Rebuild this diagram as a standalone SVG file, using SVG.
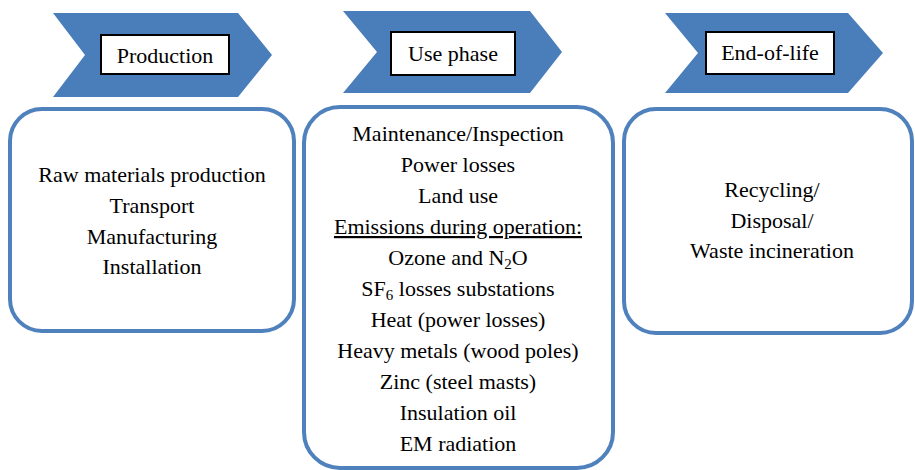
<svg xmlns="http://www.w3.org/2000/svg" width="915" height="470" viewBox="0 0 915 470">
<style>
.chev{fill:#4a7ebb;}
.lbl{fill:#fff;stroke:#000;stroke-width:2;}
.box{fill:#fff;stroke:#4f81bd;stroke-width:4;}
text{font-size:22px;fill:#000;text-anchor:middle;}
.sub{font-size:15px;}
</style>
<rect width="915" height="470" fill="#fff"/>
<g font-family="Liberation Serif, Times New Roman, serif">
<g id="production">
<polygon class="chev" points="53,13 238,13 272,55 238,97 53,97 85,55"/>
<rect class="lbl" x="101" y="35" width="128" height="39"/>
<text x="165" y="63">Production</text>
</g>
<g id="use-phase">
<polygon class="chev" points="343,11 530,11 562,52 530,93 343,93 377,52"/>
<rect class="lbl" x="391" y="32" width="124" height="43"/>
<text x="453" y="61">Use phase</text>
</g>
<g id="end-of-life">
<polygon class="chev" points="665,13 848,13 883,53 848,93 665,93 698,53"/>
<rect class="lbl" x="706" y="32" width="128" height="42"/>
<text x="770" y="60">End-of-life</text>
</g>
<g id="production-box">
<rect class="box" x="10" y="109" width="284" height="222" rx="32" ry="32"/>
<text x="152" y="182">Raw materials production</text>
<text x="152" y="213">Transport</text>
<text x="152" y="244">Manufacturing</text>
<text x="152" y="274">Installation</text>
</g>
<g id="use-phase-box">
<rect class="box" x="304" y="107" width="309" height="361" rx="36" ry="36"/>
<text x="458" y="141">Maintenance/Inspection</text>
<text x="458" y="172">Power losses</text>
<text x="458" y="203">Land use</text>
<text x="458" y="234" text-decoration="underline">Emissions during operation:</text>
<text x="458" y="265">Ozone and N<tspan class="sub" dy="4">2</tspan><tspan dy="-4">O</tspan></text>
<text x="458" y="296">SF<tspan class="sub" dy="4">6</tspan><tspan dy="-4"> losses substations</tspan></text>
<text x="458" y="327">Heat (power losses)</text>
<text x="458" y="358">Heavy metals (wood poles)</text>
<text x="458" y="389">Zinc (steel masts)</text>
<text x="458" y="420">Insulation oil</text>
<text x="458" y="451">EM radiation</text>
</g>
<g id="end-of-life-box">
<rect class="box" x="624" y="109" width="288" height="224" rx="32" ry="32"/>
<text x="772" y="197">Recycling/</text>
<text x="772" y="228">Disposal/</text>
<text x="772" y="258">Waste incineration</text>
</g>
</g>
<g id="connectors"></g>
</svg>
